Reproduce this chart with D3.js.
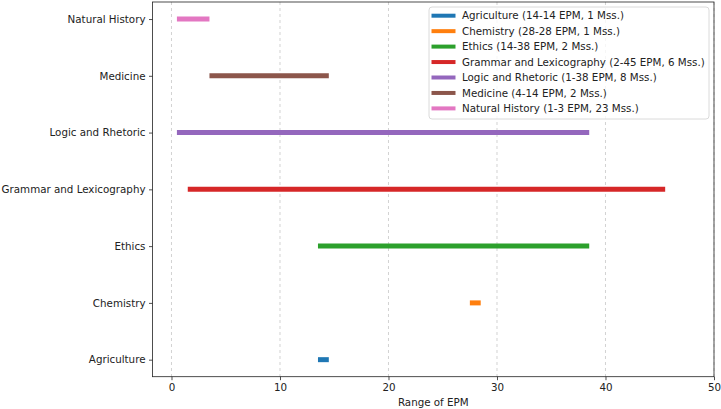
<!DOCTYPE html>
<html>
<head>
<meta charset="utf-8">
<script src="https://cdn.jsdelivr.net/npm/d3@7"></script>
<style>
  body { margin: 0; background: #fff; }
  svg { display: block; font-family: "DejaVu Sans", sans-serif; }
</style>
</head>
<body>
<svg id="chart" width="721" height="409"></svg>
<script>
// subjects, bottom to top
var subjects = ["Agriculture", "Chemistry", "Ethics", "Grammar and Lexicography",
                "Logic and Rhetoric", "Medicine", "Natural History"];
var startEPM = [14, 28, 14, 2, 1, 4, 1];
var endEPM = [14, 28, 38, 45, 38, 14, 3];
var manuscripts = [1, 1, 2, 6, 8, 2, 23];
var xTicks = [0, 10, 20, 30, 40, 50];
var colors = ["#1f77b4", "#ff7f0e", "#2ca02c", "#d62728", "#9467bd", "#8c564b", "#e377c2"];

var margin = { left: 152.5, right: 7, top: 2, bottom: 32.3 };
var width = 721 - margin.left - margin.right;
var height = 409 - margin.top - margin.bottom;
var fs = "10.3px";

var svg = d3.select("#chart");
var g = svg.append("g").attr("transform", "translate(" + margin.left + "," + margin.top + ")");

var x = d3.scaleLinear().domain([-1.75, 50]).range([0, width]);
var y = d3.scaleLinear().domain([-0.3, subjects.length - 1 + 0.3]).range([height, 0]);

// grid
g.append("g")
  .selectAll("line")
  .data(xTicks)
  .join("line")
  .attr("x1", d => x(d)).attr("x2", d => x(d))
  .attr("y1", 0).attr("y2", height)
  .attr("stroke", "#b0b0b0")
  .attr("stroke-opacity", 0.7)
  .attr("stroke-width", 0.8)
  .attr("stroke-dasharray", "3,3");

// ranges
var rows = subjects.map((s, i) => ({ name: s, a: startEPM[i], b: endEPM[i], n: manuscripts[i], c: colors[i], i: i }));
g.append("g")
  .selectAll("line")
  .data(rows)
  .join("line")
  .attr("x1", d => x(d.a - 0.5))
  .attr("x2", d => x(d.b + 0.5))
  .attr("y1", d => y(d.i))
  .attr("y2", d => y(d.i))
  .attr("stroke", d => d.c)
  .attr("stroke-width", 5);

// axes
var xAxis = g.append("g")
  .attr("transform", "translate(0," + height + ")")
  .call(d3.axisBottom(x).tickValues(xTicks).tickSize(3.5).tickPadding(3.5).tickFormat(d3.format("d")));
var yAxis = g.append("g")
  .call(d3.axisLeft(y).tickValues(d3.range(subjects.length)).tickSize(3.5).tickPadding(3.5)
    .tickFormat(i => subjects[i]));
[xAxis, yAxis].forEach(a => {
  a.select(".domain").remove();
  a.selectAll("text").attr("font-size", fs).attr("font-family", "DejaVu Sans").attr("fill", "#222");
  a.selectAll("line").attr("stroke", "#222").attr("stroke-width", 0.8);
});

// frame
g.append("rect")
  .attr("width", width).attr("height", height)
  .attr("fill", "none").attr("stroke", "#222").attr("stroke-width", 0.8);

g.append("text")
  .attr("x", width / 2).attr("y", height + 29)
  .attr("text-anchor", "middle")
  .attr("font-size", fs)
  .attr("fill", "#222")
  .text("Range of EPM");

// legend
var lg = svg.append("g").attr("transform", "translate(429,7)");
lg.append("rect")
  .attr("width", 280).attr("height", 112)
  .attr("rx", 3)
  .attr("fill", "#fff").attr("fill-opacity", 0.8)
  .attr("stroke", "#d0d0d0").attr("stroke-width", 0.8);
var item = lg.selectAll("g.item")
  .data(rows)
  .join("g")
  .attr("class", "item")
  .attr("transform", (d, i) => "translate(0," + (8.7 + i * 15.45) + ")");
item.append("line")
  .attr("x1", 2.5).attr("x2", 26.5)
  .attr("stroke", d => d.c).attr("stroke-width", 4);
item.append("text")
  .attr("x", 33).attr("dy", "0.35em")
  .attr("font-size", fs).attr("fill", "#222")
  .text(d => d.name + " (" + d.a + "-" + d.b + " EPM, " + d.n + " Mss.)");
</script>
</body>
</html>
